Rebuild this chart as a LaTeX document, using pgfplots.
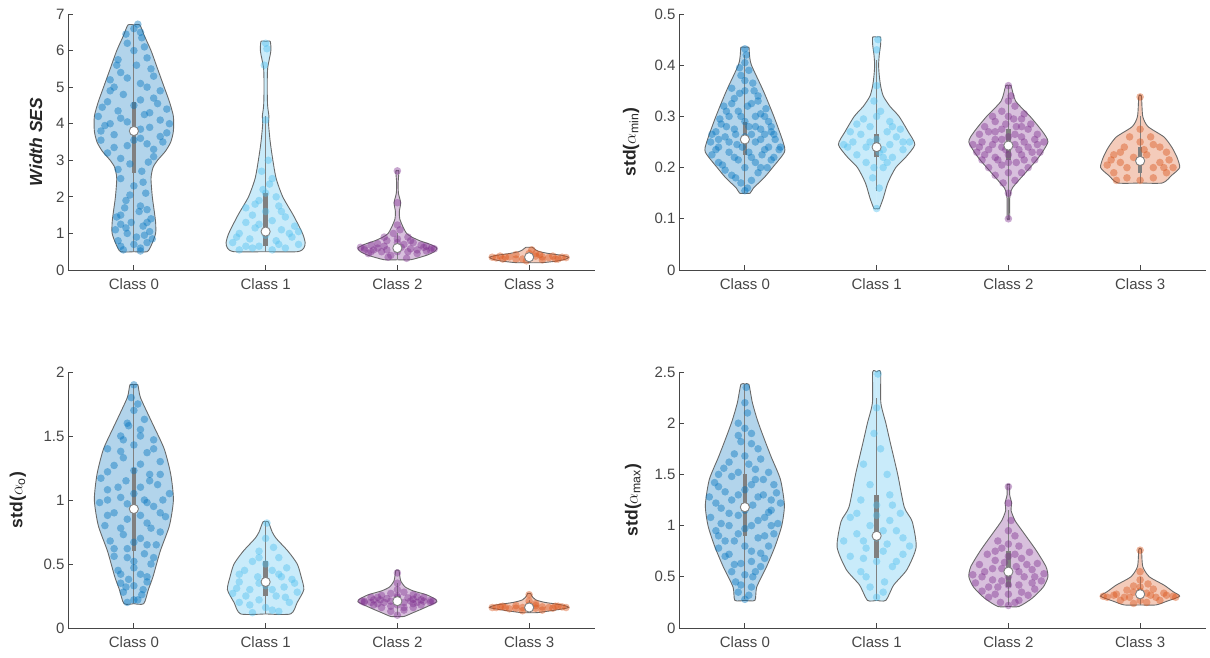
\documentclass[border=0pt]{standalone}
\usepackage{pgfplots}
\pgfplotsset{compat=1.18}
\usepackage{fontspec}
\setmainfont{Liberation Sans}
\definecolor{c0}{RGB}{0,114,189}
\definecolor{c1}{RGB}{77,190,238}
\definecolor{c2}{RGB}{126,47,142}
\definecolor{c3}{RGB}{217,83,25}
\definecolor{vedge}{RGB}{105,105,105}
\definecolor{boxgray}{RGB}{128,128,128}
\definecolor{axcol}{RGB}{70,70,70}

\newcommand{\violin}[3]{%
 \addplot[fill=#2, fill opacity=0.3, draw=vedge, line width=0.9pt, smooth, tension=0.4] table[row sep=\\, x expr=#1+\thisrow{w}, y=y] {#3};
 \addplot[fill=#2, fill opacity=0.3, draw=vedge, line width=0.9pt, smooth, tension=0.4] table[row sep=\\, x expr=#1-\thisrow{w}, y=y] {#3};
}
\newcommand{\pts}[3]{%
 \addplot[only marks, mark=*, color=#2, mark size=3.8pt, mark options={draw opacity=0, fill=#2, fill opacity=0.42}] table[row sep=\\, x expr=#1+\thisrow{x}, y=y] {#3};
}
\newcommand{\vstat}[6]{%
 \addplot[boxgray, line width=1.2pt] coordinates {(#1,#2) (#1,#6)};
 \addplot[boxgray, line width=4.5pt] coordinates {(#1,#3) (#1,#5)};
 \addplot[only marks, mark=*, mark size=4.6pt, mark options={fill=white, draw=boxgray, line width=0.9pt}] coordinates {(#1,#4)};
}

\pgfplotsset{vstyle/.style={
 scale only axis, width=527pt, height=256pt,
 xmin=0.5, xmax=4.5, xtick={1,2,3,4}, xticklabels={Class 0,Class 1,Class 2,Class 3},
 axis x line*=bottom, axis y line*=left,
 axis line style={axcol, line width=0.8pt, -},
 tick style={axcol, line width=0.8pt}, major tick length=5pt, tick align=inside,
 ticklabel style={font=\fontsize{15}{18}\selectfont, text=axcol},
 xticklabel style={yshift=-5pt},
 /pgf/number format/assume math mode=true,
 ylabel style={font=\fontsize{17.5}{21}\selectfont\bfseries, text=black!85, anchor=center},
 ymin=0, clip=false,
}}

\begin{document}
\begin{tikzpicture}
\useasboundingbox (0,0) rectangle (1210pt,658pt);

% ---------------- top left ----------------
\begin{axis}[vstyle, at={(68pt,388pt)}, anchor=south west,
 ymax=7, ytick={0,1,2,3,4,5,6,7},
 ylabel={\itshape Width SES}, ylabel style={at={(axis description cs:-0.061,0.5)}}]
\violin{1}{c0}{y w\\ 0.5 0\\ 0.5 0.1\\ 0.7 0.135\\ 1.0 0.165\\ 1.3 0.165\\ 1.6 0.155\\ 2.0 0.14\\ 2.5 0.13\\ 2.8 0.145\\ 3.0 0.18\\ 3.25 0.24\\ 3.5 0.28\\ 3.8 0.30\\ 4.2 0.30\\ 4.6 0.27\\ 5.0 0.23\\ 5.5 0.18\\ 6.0 0.13\\ 6.4 0.08\\ 6.7 0.045\\ 6.7 0\\}
\violin{2}{c1}{y w\\ 0.5 0\\ 0.5 0.24\\ 0.6 0.29\\ 0.75 0.30\\ 1.0 0.28\\ 1.5 0.21\\ 2.0 0.13\\ 2.5 0.08\\ 3.0 0.055\\ 3.5 0.035\\ 4.0 0.022\\ 4.2 0.025\\ 4.5 0.015\\ 5.0 0.012\\ 5.5 0.015\\ 5.8 0.03\\ 6.0 0.04\\ 6.25 0.035\\ 6.25 0\\}
\violin{3}{c2}{y w\\ 0.28 0\\ 0.28 0.1\\ 0.4 0.22\\ 0.5 0.28\\ 0.6 0.30\\ 0.7 0.25\\ 0.8 0.17\\ 0.9 0.11\\ 1.0 0.07\\ 1.2 0.04\\ 1.4 0.018\\ 1.6 0.015\\ 1.84 0.025\\ 2.1 0.008\\ 2.4 0.006\\ 2.71 0.012\\ 2.71 0\\}
\violin{4}{c3}{y w\\ 0.2 0\\ 0.2 0.1\\ 0.25 0.22\\ 0.3 0.28\\ 0.35 0.30\\ 0.4 0.25\\ 0.45 0.15\\ 0.5 0.08\\ 0.55 0.05\\ 0.62 0.025\\ 0.62 0\\}
\pts{1}{c0}{x y\\ -0.08 0.55\\ 0.05 0.6\\ -0.12 0.8\\ 0.1 0.75\\ 0.02 0.9\\ -0.05 1.0\\ 0.12 1.05\\ -0.14 1.1\\ 0.07 1.2\\ -0.02 1.3\\ 0.13 1.4\\ -0.1 1.5\\ 0.04 1.6\\ -0.07 1.7\\ 0.1 1.65\\ 0.0 0.7\\ -0.1 1.25\\ 0.08 0.95\\ -0.06 1.9\\ 0.09 2.1\\ 0.0 2.3\\ -0.1 2.5\\ 0.06 2.7\\ -0.03 2.9\\ 0.11 2.95\\ -0.2 3.2\\ 0.15 3.3\\ -0.05 3.4\\ 0.22 3.5\\ -0.25 3.55\\ 0.05 3.6\\ -0.15 3.7\\ 0.25 3.75\\ 0.12 3.9\\ -0.22 3.95\\ -0.05 4.05\\ 0.2 4.1\\ -0.27 4.2\\ 0.08 4.25\\ -0.12 4.35\\ 0.25 4.4\\ 0.0 4.5\\ -0.2 4.6\\ 0.15 4.7\\ -0.08 4.8\\ 0.2 4.9\\ -0.15 5.0\\ 0.05 5.1\\ 0.15 5.3\\ -0.1 5.4\\ 0.02 5.6\\ -0.12 5.75\\ 0.1 5.8\\ 0.0 6.0\\ -0.05 6.2\\ 0.06 6.35\\ 0.0 6.6\\ 0.03 6.72\\ -0.18 4.0\\ 0.1 3.45\\ -0.1 3.05\\ 0.18 4.55\\}
\pts{1}{c0}{x y\\ 0.05 0.52\\ -0.1 0.65\\ 0.14 0.85\\ -0.06 1.15\\ 0.1 1.3\\ -0.13 1.45\\ 0.05 1.75\\ -0.03 2.05\\ 0.07 2.4\\ -0.12 2.75\\ 0.15 3.1\\ -0.15 3.35\\ 0.0 3.55\\ 0.2 3.65\\ -0.25 3.8\\ 0.05 3.85\\ 0.27 4.0\\ -0.1 4.15\\ 0.12 4.3\\ -0.24 4.45\\ 0.05 4.65\\ -0.18 4.9\\ 0.1 5.0\\ -0.05 5.25\\ 0.13 5.5\\ -0.13 5.6\\ 0.08 6.1\\ -0.06 6.45\\ 0.05 6.5\\ -0.18 5.2\\}
\pts{2}{c1}{x y\\ -0.2 0.55\\ 0.15 0.6\\ -0.05 0.65\\ 0.25 0.7\\ -0.25 0.75\\ 0.08 0.8\\ -0.12 0.85\\ 0.2 0.9\\ 0.0 0.95\\ -0.2 1.0\\ 0.12 1.1\\ -0.08 1.15\\ 0.22 1.2\\ -0.15 1.3\\ 0.05 1.35\\ 0.15 1.45\\ -0.1 1.5\\ 0.0 1.6\\ -0.15 1.7\\ 0.1 1.75\\ -0.05 1.9\\ 0.08 2.0\\ -0.02 2.2\\ 0.05 2.5\\ -0.03 2.7\\ 0.02 3.0\\ 0.0 4.1\\ -0.01 5.6\\ 0.01 6.05\\ 0.0 6.2\\ -0.1 0.6\\ 0.18 1.0\\ 0.05 0.55\\ -0.15 0.65\\ 0.1 0.7\\ -0.22 0.9\\ 0.25 1.05\\ -0.05 1.25\\ 0.12 1.6\\ -0.08 1.8\\ 0.0 2.1\\ 0.03 2.35\\}
\pts{3}{c2}{x y\\ -0.25 0.6\\ -0.18 0.55\\ -0.1 0.65\\ 0.0 0.5\\ 0.1 0.58\\ 0.2 0.62\\ 0.26 0.6\\ -0.22 0.45\\ 0.15 0.45\\ -0.05 0.4\\ 0.05 0.7\\ -0.15 0.72\\ 0.12 0.75\\ 0.0 0.85\\ -0.08 0.8\\ 0.08 0.9\\ -0.03 1.0\\ 0.02 1.1\\ 0.0 1.23\\ 0.0 1.84\\ 0.0 2.71\\ -0.07 0.35\\ 0.07 0.32\\ 0.22 0.52\\ -0.28 0.62\\ 0.18 0.68\\ -0.12 0.5\\ 0.03 0.62\\ 0.28 0.58\\ -0.2 0.68\\ -0.15 0.6\\ 0.15 0.55\\ 0.0 0.6\\ -0.2 0.5\\ 0.22 0.65\\ -0.08 0.55\\ 0.08 0.5\\ 0.1 0.8\\ -0.1 0.9\\ 0.0 0.75\\ -0.25 0.55\\ 0.25 0.55\\}
\pts{4}{c3}{x y\\ -0.25 0.33\\ -0.15 0.36\\ -0.05 0.3\\ 0.05 0.38\\ 0.15 0.34\\ 0.25 0.35\\ 0.1 0.28\\ -0.1 0.42\\ 0.0 0.45\\ 0.02 0.55\\ -0.2 0.3\\ 0.2 0.3\\ -0.02 0.25\\ 0.08 0.42\\ -0.28 0.35\\ 0.28 0.34\\ -0.18 0.35\\ 0.18 0.38\\ 0.0 0.33\\ -0.1 0.3\\ 0.1 0.36\\ 0.22 0.3\\ -0.22 0.38\\ 0.05 0.45\\}
\vstat{1}{0.5}{2.65}{3.8}{4.6}{6.7}
\vstat{2}{0.5}{0.65}{1.05}{2.1}{4.2}
\vstat{3}{0.3}{0.5}{0.6}{0.68}{1.0}
\vstat{4}{0.2}{0.3}{0.35}{0.4}{0.5}
\end{axis}

% ---------------- top right ----------------
\begin{axis}[vstyle, at={(679pt,388pt)}, anchor=south west,
 ymax=0.5, ytick={0,0.1,0.2,0.3,0.4,0.5},
 ylabel={std($\alpha$\textsubscript{\mdseries min})}, ylabel style={at={(axis description cs:-0.091,0.5)}}]
\violin{1}{c0}{y w\\ 0.15 0\\ 0.15 0.04\\ 0.16 0.065\\ 0.18 0.145\\ 0.2 0.21\\ 0.23 0.30\\ 0.25 0.29\\ 0.3 0.22\\ 0.35 0.14\\ 0.4 0.05\\ 0.42 0.035\\ 0.435 0.03\\ 0.435 0\\}
\violin{2}{c1}{y w\\ 0.12 0\\ 0.12 0.02\\ 0.14 0.05\\ 0.17 0.085\\ 0.2 0.145\\ 0.22 0.22\\ 0.245 0.29\\ 0.27 0.24\\ 0.3 0.17\\ 0.32 0.1\\ 0.34 0.05\\ 0.36 0.03\\ 0.38 0.02\\ 0.4 0.015\\ 0.42 0.02\\ 0.44 0.03\\ 0.455 0.03\\ 0.455 0\\}
\violin{3}{c2}{y w\\ 0.1 0\\ 0.1 0.01\\ 0.14 0.01\\ 0.16 0.03\\ 0.19 0.13\\ 0.22 0.23\\ 0.25 0.30\\ 0.27 0.26\\ 0.3 0.165\\ 0.33 0.055\\ 0.36 0.02\\ 0.36 0\\}
\violin{4}{c3}{y w\\ 0.17 0\\ 0.17 0.17\\ 0.185 0.24\\ 0.2 0.30\\ 0.22 0.28\\ 0.24 0.24\\ 0.26 0.18\\ 0.28 0.06\\ 0.3 0.02\\ 0.34 0.01\\ 0.34 0\\}
\pts{1}{c0}{x y\\ 0.0 0.155\\ -0.03 0.17\\ 0.05 0.175\\ -0.1 0.185\\ 0.1 0.19\\ -0.15 0.195\\ 0.0 0.2\\ 0.17 0.2\\ -0.2 0.21\\ 0.08 0.21\\ -0.05 0.215\\ 0.22 0.22\\ -0.25 0.225\\ 0.13 0.225\\ -0.12 0.23\\ 0.03 0.23\\ 0.26 0.235\\ -0.2 0.24\\ 0.18 0.24\\ -0.06 0.245\\ 0.08 0.25\\ -0.26 0.25\\ 0.23 0.255\\ -0.15 0.26\\ 0.0 0.26\\ 0.15 0.265\\ -0.22 0.27\\ 0.2 0.27\\ -0.08 0.275\\ 0.08 0.28\\ -0.18 0.285\\ 0.18 0.29\\ 0.0 0.29\\ -0.12 0.3\\ 0.12 0.305\\ -0.05 0.31\\ 0.16 0.315\\ -0.16 0.32\\ 0.05 0.325\\ -0.08 0.335\\ 0.1 0.34\\ 0.0 0.35\\ -0.1 0.355\\ 0.06 0.365\\ -0.03 0.38\\ 0.03 0.39\\ 0.0 0.405\\ 0.01 0.42\\ 0.0 0.432\\}
\pts{1}{c0}{x y\\ 0.02 0.16\\ -0.07 0.18\\ 0.12 0.2\\ -0.17 0.205\\ 0.2 0.215\\ -0.08 0.22\\ 0.05 0.22\\ -0.22 0.235\\ 0.15 0.235\\ -0.02 0.24\\ 0.27 0.24\\ -0.12 0.25\\ 0.12 0.255\\ -0.2 0.255\\ 0.05 0.265\\ -0.07 0.265\\ 0.22 0.265\\ -0.25 0.265\\ 0.12 0.275\\ -0.14 0.28\\ 0.03 0.28\\ 0.2 0.28\\ -0.19 0.295\\ 0.08 0.3\\ -0.03 0.3\\ 0.15 0.3\\ -0.14 0.31\\ 0.02 0.32\\ -0.1 0.325\\ 0.1 0.33\\ -0.04 0.345\\ 0.07 0.35\\ 0.0 0.37\\ -0.04 0.395\\}
\pts{2}{c1}{x y\\ 0.0 0.12\\ 0.02 0.16\\ -0.03 0.18\\ 0.05 0.2\\ -0.08 0.21\\ 0.12 0.22\\ -0.15 0.225\\ 0.02 0.23\\ 0.2 0.235\\ -0.22 0.24\\ -0.08 0.24\\ 0.1 0.245\\ 0.25 0.25\\ -0.18 0.25\\ 0.0 0.255\\ 0.15 0.26\\ -0.12 0.265\\ 0.08 0.27\\ -0.2 0.27\\ 0.18 0.275\\ -0.05 0.28\\ 0.1 0.29\\ -0.1 0.295\\ 0.03 0.31\\ -0.02 0.33\\ 0.0 0.36\\ 0.0 0.43\\ 0.01 0.45\\ -0.02 0.2\\ 0.08 0.21\\ -0.25 0.245\\ 0.05 0.235\\ -0.05 0.25\\ 0.2 0.25\\ 0.12 0.28\\ -0.15 0.285\\ 0.0 0.3\\ 0.05 0.22\\}
\pts{3}{c2}{x y\\ 0.0 0.1\\ 0.0 0.15\\ -0.04 0.17\\ 0.05 0.175\\ -0.1 0.185\\ 0.1 0.19\\ 0.0 0.19\\ -0.15 0.2\\ 0.15 0.2\\ -0.05 0.205\\ 0.06 0.21\\ -0.2 0.215\\ 0.2 0.215\\ -0.1 0.22\\ 0.1 0.225\\ 0.0 0.225\\ -0.24 0.23\\ 0.24 0.23\\ -0.15 0.235\\ 0.15 0.24\\ -0.05 0.24\\ 0.05 0.245\\ -0.27 0.245\\ 0.27 0.25\\ -0.2 0.25\\ 0.2 0.255\\ -0.1 0.255\\ 0.1 0.26\\ 0.0 0.26\\ -0.22 0.265\\ 0.22 0.265\\ -0.15 0.27\\ 0.15 0.275\\ -0.05 0.275\\ 0.06 0.28\\ -0.18 0.28\\ 0.17 0.285\\ -0.1 0.29\\ 0.1 0.295\\ 0.0 0.3\\ -0.12 0.3\\ 0.12 0.305\\ -0.05 0.31\\ 0.05 0.32\\ 0.0 0.33\\ 0.02 0.34\\ 0.0 0.36\\}
\pts{3}{c2}{x y\\ 0.0 0.21\\ -0.08 0.215\\ 0.12 0.215\\ -0.18 0.225\\ 0.18 0.23\\ -0.02 0.235\\ 0.08 0.235\\ -0.22 0.24\\ 0.22 0.245\\ -0.12 0.245\\ 0.12 0.25\\ -0.05 0.255\\ 0.05 0.265\\ -0.1 0.27\\ 0.1 0.28\\ -0.02 0.285\\ 0.04 0.295\\}
\pts{4}{c3}{x y\\ -0.2 0.19\\ -0.1 0.18\\ 0.0 0.175\\ 0.1 0.18\\ 0.2 0.19\\ -0.25 0.205\\ 0.25 0.2\\ -0.15 0.21\\ 0.15 0.21\\ -0.05 0.22\\ 0.05 0.225\\ -0.2 0.225\\ 0.2 0.23\\ -0.12 0.24\\ 0.1 0.245\\ 0.0 0.25\\ -0.08 0.26\\ 0.08 0.26\\ 0.0 0.275\\ 0.0 0.338\\ -0.18 0.175\\ 0.18 0.2\\ -0.1 0.2\\ 0.1 0.2\\ 0.0 0.21\\ -0.22 0.215\\ 0.22 0.215\\ 0.03 0.235\\ -0.15 0.23\\ 0.15 0.24\\}
\vstat{1}{0.15}{0.225}{0.255}{0.29}{0.42}
\vstat{2}{0.155}{0.22}{0.24}{0.265}{0.41}
\vstat{3}{0.1}{0.215}{0.243}{0.275}{0.36}
\vstat{4}{0.17}{0.19}{0.213}{0.24}{0.3}
\end{axis}

% ---------------- bottom left ----------------
\begin{axis}[vstyle, at={(68pt,30pt)}, anchor=south west,
 ymax=2, ytick={0,0.5,1,1.5,2},
 ylabel={std($\alpha$\textsubscript{\mdseries o})}, ylabel style={at={(axis description cs:-0.095,0.5)}}]
\violin{1}{c0}{y w\\ 0.19 0\\ 0.19 0.075\\ 0.3 0.11\\ 0.4 0.145\\ 0.6 0.2\\ 0.8 0.27\\ 1.0 0.30\\ 1.2 0.28\\ 1.4 0.23\\ 1.6 0.14\\ 1.8 0.05\\ 1.9 0.03\\ 1.9 0\\}
\violin{2}{c1}{y w\\ 0.11 0\\ 0.11 0.19\\ 0.2 0.24\\ 0.3 0.29\\ 0.4 0.27\\ 0.5 0.24\\ 0.6 0.17\\ 0.7 0.08\\ 0.75 0.05\\ 0.83 0.02\\ 0.83 0\\}
\violin{3}{c2}{y w\\ 0.09 0\\ 0.09 0.05\\ 0.12 0.12\\ 0.155 0.2\\ 0.205 0.30\\ 0.23 0.28\\ 0.26 0.22\\ 0.29 0.12\\ 0.32 0.06\\ 0.37 0.025\\ 0.45 0.012\\ 0.45 0\\}
\violin{4}{c3}{y w\\ 0.12 0\\ 0.12 0.06\\ 0.14 0.2\\ 0.16 0.30\\ 0.18 0.25\\ 0.2 0.12\\ 0.22 0.05\\ 0.25 0.02\\ 0.27 0.012\\ 0.27 0\\}
\pts{1}{c0}{x y\\ -0.05 0.2\\ 0.03 0.22\\ -0.08 0.28\\ 0.07 0.3\\ 0.0 0.33\\ -0.1 0.35\\ 0.1 0.36\\ -0.04 0.38\\ 0.05 0.42\\ -0.12 0.45\\ 0.13 0.5\\ 0.0 0.52\\ -0.15 0.56\\ 0.08 0.58\\ -0.05 0.62\\ 0.17 0.65\\ -0.18 0.68\\ 0.05 0.7\\ -0.08 0.73\\ 0.2 0.75\\ -0.22 0.8\\ 0.1 0.82\\ -0.05 0.85\\ 0.24 0.87\\ -0.15 0.9\\ 0.0 0.93\\ 0.15 0.95\\ -0.26 0.98\\ 0.08 1.0\\ -0.1 1.02\\ 0.27 1.05\\ -0.2 1.08\\ 0.05 1.1\\ 0.18 1.12\\ -0.06 1.15\\ -0.25 1.17\\ 0.12 1.2\\ 0.0 1.23\\ -0.15 1.27\\ 0.2 1.3\\ -0.08 1.33\\ 0.1 1.37\\ -0.2 1.4\\ 0.0 1.43\\ 0.15 1.47\\ -0.1 1.5\\ 0.05 1.55\\ -0.05 1.6\\ 0.08 1.63\\ 0.0 1.7\\ -0.02 1.8\\ 0.0 1.9\\}
\pts{1}{c0}{x y\\ 0.0 0.22\\ 0.06 0.26\\ -0.06 0.32\\ 0.1 0.4\\ -0.1 0.42\\ 0.0 0.47\\ 0.15 0.55\\ -0.05 0.55\\ -0.15 0.62\\ 0.1 0.65\\ 0.0 0.67\\ -0.1 0.78\\ 0.13 0.78\\ -0.2 0.88\\ 0.05 0.88\\ 0.2 0.9\\ -0.05 0.97\\ 0.1 0.98\\ -0.2 1.0\\ 0.22 1.0\\ 0.0 1.05\\ -0.12 1.1\\ 0.12 1.15\\ -0.2 1.22\\ 0.2 1.2\\ 0.05 1.28\\ -0.1 1.38\\ 0.15 1.4\\ -0.08 1.47\\ 0.05 1.5\\ -0.04 1.58\\ 0.03 1.75\\}
\pts{2}{c1}{x y\\ -0.1 0.12\\ 0.1 0.13\\ 0.0 0.16\\ -0.2 0.2\\ 0.18 0.2\\ -0.05 0.22\\ 0.08 0.25\\ -0.25 0.27\\ 0.24 0.28\\ -0.12 0.3\\ 0.14 0.32\\ 0.0 0.33\\ -0.2 0.36\\ 0.2 0.38\\ -0.06 0.4\\ 0.1 0.42\\ -0.16 0.45\\ 0.16 0.47\\ 0.0 0.5\\ -0.1 0.52\\ 0.1 0.55\\ -0.05 0.6\\ 0.06 0.63\\ 0.0 0.7\\ 0.01 0.82\\ -0.22 0.31\\ 0.22 0.35\\ 0.05 0.14\\ -0.12 0.18\\ 0.15 0.24\\ -0.15 0.25\\ 0.05 0.3\\ -0.05 0.35\\ 0.12 0.4\\ -0.2 0.42\\ 0.05 0.45\\ -0.05 0.55\\}
\pts{3}{c2}{x y\\ 0.0 0.1\\ -0.05 0.13\\ 0.05 0.14\\ -0.12 0.16\\ 0.12 0.16\\ -0.18 0.18\\ 0.18 0.18\\ 0.0 0.18\\ -0.25 0.2\\ 0.25 0.2\\ -0.1 0.2\\ 0.1 0.21\\ -0.27 0.21\\ 0.27 0.21\\ -0.18 0.22\\ 0.18 0.22\\ 0.0 0.22\\ -0.08 0.23\\ 0.08 0.235\\ -0.2 0.24\\ 0.2 0.24\\ 0.0 0.25\\ -0.12 0.255\\ 0.12 0.26\\ -0.05 0.27\\ 0.05 0.28\\ 0.0 0.3\\ 0.0 0.35\\ 0.0 0.43\\ -0.15 0.19\\ 0.15 0.2\\ 0.05 0.16\\ -0.05 0.17\\ 0.12 0.19\\ -0.2 0.2\\ 0.2 0.21\\ -0.05 0.21\\ 0.05 0.2\\ -0.13 0.22\\ 0.12 0.225\\ -0.25 0.21\\ 0.25 0.215\\ -0.15 0.24\\ 0.15 0.245\\ 0.0 0.24\\}
\pts{4}{c3}{x y\\ -0.25 0.16\\ -0.15 0.15\\ -0.05 0.16\\ 0.05 0.155\\ 0.15 0.16\\ 0.25 0.165\\ -0.2 0.17\\ 0.2 0.17\\ -0.1 0.175\\ 0.1 0.14\\ 0.0 0.18\\ -0.05 0.135\\ 0.05 0.19\\ 0.0 0.21\\ 0.0 0.26\\ -0.28 0.16\\ 0.28 0.16\\ -0.18 0.16\\ 0.18 0.155\\ 0.0 0.16\\ -0.1 0.155\\ 0.1 0.165\\ 0.22 0.17\\ -0.22 0.165\\ 0.05 0.175\\}
\vstat{1}{0.19}{0.6}{0.93}{1.25}{1.9}
\vstat{2}{0.11}{0.25}{0.36}{0.52}{0.83}
\vstat{3}{0.1}{0.18}{0.21}{0.25}{0.35}
\vstat{4}{0.12}{0.14}{0.16}{0.18}{0.22}
\end{axis}

% ---------------- bottom right ----------------
\begin{axis}[vstyle, at={(679pt,30pt)}, anchor=south west,
 ymax=2.5, ytick={0,0.5,1,1.5,2,2.5},
 ylabel={std($\alpha$\textsubscript{\mdseries max})}, ylabel style={at={(axis description cs:-0.087,0.5)}}]
\violin{1}{c0}{y w\\ 0.27 0\\ 0.27 0.076\\ 0.4 0.09\\ 0.6 0.165\\ 0.8 0.23\\ 1.0 0.28\\ 1.2 0.30\\ 1.45 0.27\\ 1.67 0.2\\ 1.87 0.14\\ 2.03 0.095\\ 2.2 0.057\\ 2.38 0.03\\ 2.38 0\\}
\violin{2}{c1}{y w\\ 0.27 0\\ 0.27 0.07\\ 0.42 0.13\\ 0.57 0.23\\ 0.79 0.30\\ 1.04 0.27\\ 1.18 0.21\\ 1.5 0.16\\ 1.83 0.1\\ 2.0 0.07\\ 2.2 0.032\\ 2.5 0.03\\ 2.5 0\\}
\violin{3}{c2}{y w\\ 0.21 0\\ 0.21 0.08\\ 0.29 0.18\\ 0.4 0.265\\ 0.5 0.30\\ 0.6 0.285\\ 0.76 0.21\\ 0.94 0.11\\ 1.05 0.05\\ 1.15 0.02\\ 1.22 0.025\\ 1.3 0.01\\ 1.4 0.01\\ 1.4 0\\}
\violin{4}{c3}{y w\\ 0.225 0\\ 0.225 0.12\\ 0.26 0.2\\ 0.31 0.30\\ 0.355 0.25\\ 0.42 0.18\\ 0.5 0.07\\ 0.6 0.02\\ 0.77 0.01\\ 0.77 0\\}
\pts{1}{c0}{x y\\ 0.0 0.28\\ -0.05 0.35\\ 0.05 0.4\\ -0.07 0.45\\ 0.06 0.5\\ 0.0 0.52\\ -0.1 0.55\\ 0.12 0.6\\ -0.03 0.63\\ 0.15 0.68\\ -0.15 0.7\\ 0.05 0.75\\ -0.2 0.78\\ 0.18 0.8\\ -0.08 0.85\\ 0.1 0.88\\ 0.22 0.92\\ -0.22 0.95\\ 0.0 0.97\\ -0.12 1.0\\ 0.25 1.02\\ 0.1 1.05\\ -0.26 1.08\\ -0.05 1.1\\ 0.18 1.13\\ -0.18 1.17\\ 0.06 1.2\\ 0.27 1.22\\ -0.1 1.25\\ -0.27 1.28\\ 0.14 1.3\\ 0.0 1.35\\ -0.2 1.38\\ 0.22 1.4\\ 0.08 1.45\\ -0.1 1.48\\ 0.18 1.52\\ -0.16 1.56\\ 0.03 1.6\\ 0.12 1.65\\ -0.08 1.7\\ 0.1 1.75\\ -0.03 1.82\\ 0.05 1.9\\ -0.05 2.0\\ 0.02 2.1\\ 0.0 2.2\\ 0.01 2.35\\ -0.2 1.5\\ 0.2 1.15\\ -0.15 0.85\\}
\pts{1}{c0}{x y\\ 0.03 0.32\\ -0.03 0.42\\ 0.08 0.55\\ -0.08 0.62\\ 0.05 0.65\\ -0.12 0.72\\ 0.12 0.73\\ 0.0 0.8\\ -0.2 0.9\\ 0.15 0.9\\ -0.05 0.92\\ 0.2 1.0\\ -0.18 1.02\\ 0.05 1.0\\ 0.15 1.08\\ -0.12 1.12\\ 0.0 1.15\\ -0.22 1.22\\ 0.2 1.25\\ 0.1 1.28\\ -0.05 1.3\\ 0.24 1.32\\ -0.15 1.33\\ 0.05 1.4\\ -0.23 1.42\\ 0.14 1.45\\ -0.05 1.52\\ 0.08 1.55\\ -0.12 1.62\\ 0.0 1.68\\ 0.05 1.8\\ -0.05 1.88\\ 0.0 1.95\\}
\pts{2}{c1}{x y\\ 0.0 0.3\\ -0.05 0.4\\ 0.06 0.45\\ -0.12 0.55\\ 0.12 0.6\\ 0.0 0.65\\ -0.2 0.7\\ 0.2 0.72\\ -0.08 0.78\\ 0.08 0.82\\ -0.25 0.85\\ 0.25 0.8\\ 0.0 0.88\\ -0.15 0.92\\ 0.15 0.95\\ -0.05 1.0\\ 0.1 1.05\\ -0.2 1.08\\ 0.18 1.12\\ 0.0 1.2\\ -0.12 1.25\\ 0.1 1.3\\ -0.05 1.4\\ 0.08 1.5\\ -0.1 1.6\\ 0.03 1.75\\ -0.02 1.9\\ 0.0 2.15\\ 0.01 2.48\\ 0.05 0.35\\ -0.08 0.5\\ 0.15 0.65\\ -0.1 0.68\\ 0.05 0.75\\ 0.2 0.88\\ -0.1 0.85\\ 0.05 0.95\\ -0.15 1.12\\ 0.12 1.2\\ 0.0 1.1\\}
\pts{3}{c2}{x y\\ 0.0 0.22\\ -0.06 0.25\\ 0.08 0.27\\ -0.15 0.3\\ 0.15 0.32\\ 0.0 0.33\\ -0.2 0.36\\ 0.2 0.38\\ -0.08 0.4\\ 0.08 0.42\\ -0.25 0.44\\ 0.25 0.46\\ -0.12 0.47\\ 0.12 0.5\\ 0.0 0.5\\ -0.27 0.52\\ 0.27 0.53\\ -0.18 0.55\\ 0.18 0.57\\ -0.05 0.58\\ 0.06 0.6\\ -0.22 0.62\\ 0.22 0.63\\ -0.1 0.66\\ 0.1 0.68\\ 0.0 0.7\\ -0.16 0.72\\ 0.16 0.74\\ -0.05 0.78\\ 0.08 0.8\\ -0.08 0.85\\ 0.05 0.9\\ 0.0 0.95\\ 0.02 1.05\\ 0.0 1.22\\ 0.0 1.38\\ 0.05 0.25\\ -0.1 0.33\\ 0.1 0.35\\ -0.15 0.4\\ 0.0 0.42\\ 0.18 0.44\\ -0.05 0.46\\ -0.2 0.5\\ 0.2 0.5\\ 0.08 0.55\\ -0.12 0.58\\ 0.14 0.62\\ -0.03 0.64\\ 0.05 0.72\\ -0.1 0.75\\ 0.0 0.82\\}
\pts{4}{c3}{x y\\ -0.05 0.24\\ 0.05 0.25\\ -0.15 0.27\\ 0.15 0.27\\ -0.25 0.3\\ 0.25 0.31\\ -0.08 0.3\\ 0.08 0.32\\ -0.18 0.33\\ 0.18 0.34\\ 0.0 0.36\\ -0.1 0.37\\ 0.1 0.38\\ -0.05 0.41\\ 0.06 0.43\\ 0.0 0.47\\ 0.0 0.55\\ 0.0 0.76\\ -0.28 0.31\\ 0.27 0.3\\ 0.0 0.27\\ -0.12 0.3\\ 0.12 0.3\\ -0.2 0.32\\ 0.2 0.32\\ 0.05 0.34\\ -0.05 0.35\\ 0.0 0.4\\}
\vstat{1}{0.28}{0.9}{1.18}{1.5}{2.38}
\vstat{2}{0.28}{0.68}{0.9}{1.3}{2.25}
\vstat{3}{0.22}{0.4}{0.55}{0.75}{1.15}
\vstat{4}{0.22}{0.28}{0.33}{0.38}{0.5}
\end{axis}
\end{tikzpicture}
\end{document}
